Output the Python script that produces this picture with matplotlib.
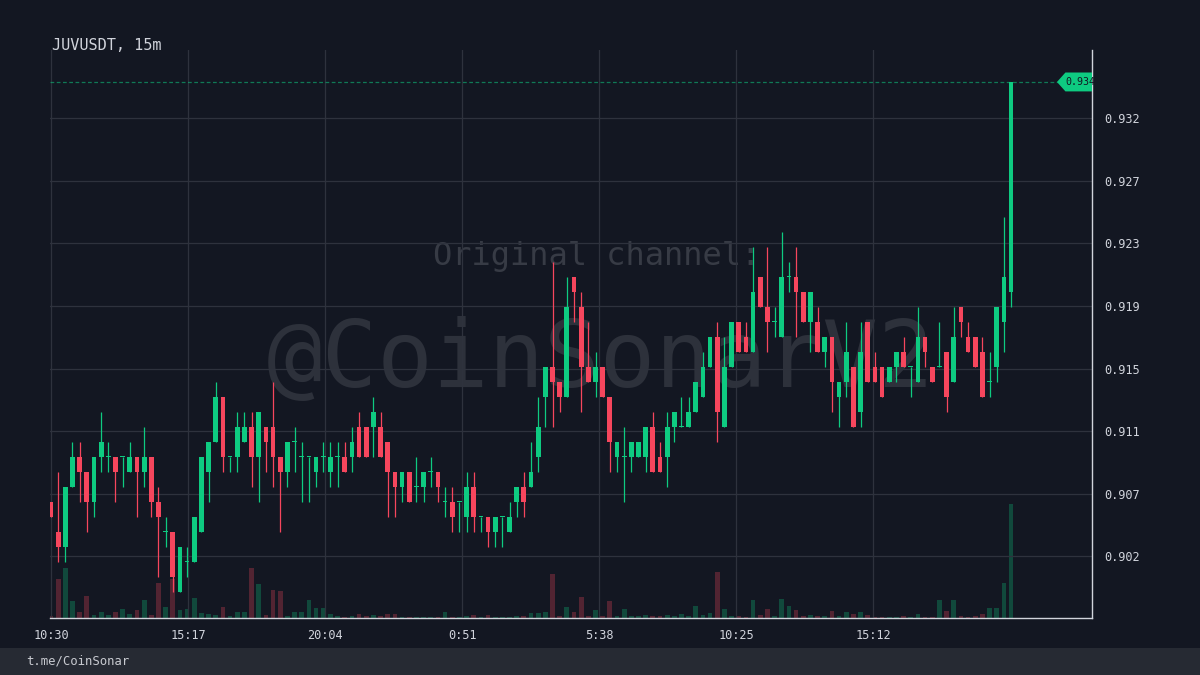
import matplotlib
matplotlib.use("Agg")
import matplotlib.pyplot as plt
from matplotlib.patches import Polygon, Rectangle
import matplotlib.transforms as mtransforms

# ---- data (JUVUSDT 15m candles) ----
symbol = "JUVUSDT, 15m"
footer = "t.me/CoinSonar"

opens = [
    0.906, 0.904, 0.903, 0.907, 0.909, 0.908, 0.906, 0.909, 0.909, 0.909,
    0.909, 0.908, 0.909, 0.908, 0.909, 0.906, 0.904, 0.904, 0.900, 0.902,
    0.902, 0.904, 0.908, 0.910, 0.913, 0.909, 0.909, 0.910, 0.911, 0.909,
    0.911, 0.911, 0.909, 0.908, 0.910, 0.909, 0.909, 0.908, 0.909, 0.908,
    0.909, 0.909, 0.909, 0.911, 0.911, 0.911, 0.911, 0.910, 0.908, 0.907,
    0.908, 0.907, 0.907, 0.908, 0.908, 0.906, 0.906, 0.906, 0.905, 0.907,
    0.905, 0.905, 0.904, 0.905, 0.904, 0.906, 0.907, 0.907, 0.909, 0.913,
    0.915, 0.914, 0.913, 0.921, 0.919, 0.915, 0.914, 0.915, 0.913, 0.909,
    0.909, 0.909, 0.909, 0.909, 0.911, 0.909, 0.909, 0.911, 0.911, 0.911,
    0.912, 0.913, 0.915, 0.917, 0.911, 0.915, 0.918, 0.917, 0.916, 0.921,
    0.919, 0.918, 0.917, 0.921, 0.921, 0.920, 0.918, 0.918, 0.916, 0.917,
    0.913, 0.914, 0.915, 0.912, 0.918, 0.915, 0.915, 0.914, 0.915, 0.916,
    0.915, 0.914, 0.917, 0.915, 0.915, 0.916, 0.914, 0.919, 0.917, 0.917,
    0.916, 0.914, 0.915, 0.918, 0.920,
]
closes = [
    0.905, 0.903, 0.907, 0.909, 0.908, 0.906, 0.909, 0.910, 0.909, 0.908,
    0.909, 0.909, 0.908, 0.909, 0.906, 0.905, 0.904, 0.901, 0.903, 0.902,
    0.905, 0.909, 0.910, 0.913, 0.909, 0.909, 0.911, 0.911, 0.909, 0.912,
    0.910, 0.909, 0.908, 0.910, 0.910, 0.909, 0.909, 0.909, 0.909, 0.909,
    0.909, 0.908, 0.910, 0.909, 0.909, 0.912, 0.909, 0.908, 0.907, 0.908,
    0.906, 0.907, 0.908, 0.908, 0.907, 0.906, 0.905, 0.906, 0.907, 0.905,
    0.905, 0.904, 0.905, 0.905, 0.905, 0.907, 0.906, 0.908, 0.911, 0.915,
    0.914, 0.913, 0.919, 0.920, 0.915, 0.914, 0.915, 0.913, 0.910, 0.910,
    0.909, 0.910, 0.910, 0.911, 0.908, 0.908, 0.911, 0.912, 0.911, 0.912,
    0.914, 0.915, 0.917, 0.912, 0.915, 0.918, 0.916, 0.916, 0.920, 0.919,
    0.918, 0.918, 0.921, 0.921, 0.920, 0.918, 0.920, 0.916, 0.917, 0.914,
    0.914, 0.916, 0.911, 0.916, 0.914, 0.914, 0.913, 0.915, 0.916, 0.915,
    0.915, 0.917, 0.916, 0.914, 0.915, 0.913, 0.917, 0.918, 0.916, 0.915,
    0.913, 0.914, 0.919, 0.921, 0.934,
]
highs = [
    0.906, 0.908, 0.907, 0.910, 0.910, 0.908, 0.909, 0.912, 0.910, 0.909,
    0.909, 0.910, 0.909, 0.911, 0.909, 0.907, 0.905, 0.904, 0.903, 0.903,
    0.905, 0.909, 0.910, 0.914, 0.913, 0.909, 0.912, 0.912, 0.912, 0.912,
    0.911, 0.914, 0.909, 0.910, 0.911, 0.910, 0.909, 0.909, 0.910, 0.910,
    0.910, 0.910, 0.911, 0.912, 0.911, 0.913, 0.912, 0.910, 0.908, 0.908,
    0.908, 0.909, 0.908, 0.909, 0.908, 0.907, 0.907, 0.906, 0.908, 0.908,
    0.905, 0.905, 0.905, 0.905, 0.906, 0.907, 0.908, 0.910, 0.913, 0.915,
    0.922, 0.914, 0.921, 0.921, 0.920, 0.918, 0.916, 0.915, 0.913, 0.910,
    0.911, 0.910, 0.910, 0.911, 0.912, 0.910, 0.912, 0.912, 0.913, 0.913,
    0.914, 0.916, 0.917, 0.918, 0.917, 0.918, 0.918, 0.918, 0.923, 0.921,
    0.923, 0.919, 0.924, 0.922, 0.923, 0.920, 0.920, 0.919, 0.917, 0.917,
    0.914, 0.918, 0.915, 0.918, 0.918, 0.916, 0.915, 0.915, 0.916, 0.917,
    0.915, 0.919, 0.917, 0.915, 0.918, 0.916, 0.919, 0.919, 0.918, 0.917,
    0.917, 0.916, 0.919, 0.925, 0.934,
]
lows = [
    0.905, 0.902, 0.902, 0.907, 0.906, 0.904, 0.905, 0.908, 0.908, 0.906,
    0.907, 0.908, 0.905, 0.907, 0.905, 0.901, 0.903, 0.900, 0.900, 0.901,
    0.902, 0.904, 0.906, 0.910, 0.908, 0.908, 0.908, 0.910, 0.907, 0.906,
    0.908, 0.907, 0.904, 0.907, 0.908, 0.906, 0.906, 0.907, 0.908, 0.907,
    0.907, 0.908, 0.908, 0.909, 0.909, 0.909, 0.909, 0.905, 0.905, 0.906,
    0.906, 0.906, 0.906, 0.907, 0.906, 0.905, 0.904, 0.904, 0.904, 0.904,
    0.904, 0.903, 0.903, 0.903, 0.904, 0.905, 0.905, 0.907, 0.908, 0.911,
    0.911, 0.912, 0.913, 0.918, 0.912, 0.914, 0.913, 0.913, 0.908, 0.908,
    0.906, 0.908, 0.909, 0.908, 0.908, 0.908, 0.907, 0.910, 0.911, 0.911,
    0.912, 0.913, 0.915, 0.910, 0.911, 0.915, 0.916, 0.916, 0.916, 0.919,
    0.916, 0.917, 0.917, 0.920, 0.917, 0.918, 0.916, 0.916, 0.915, 0.912,
    0.911, 0.913, 0.911, 0.911, 0.914, 0.914, 0.913, 0.914, 0.914, 0.915,
    0.913, 0.914, 0.915, 0.914, 0.915, 0.912, 0.914, 0.917, 0.916, 0.915,
    0.913, 0.913, 0.914, 0.916, 0.919,
]
volumes = [
    2, 39, 50, 17, 6, 22, 3, 6, 3, 6,
    9, 4, 8, 18, 3, 35, 11, 39, 8, 9,
    20, 5, 4, 3, 11, 2, 6, 6, 50, 34,
    3, 28, 27, 2, 6, 6, 18, 10, 10, 4,
    2, 1, 2, 4, 2, 3, 2, 4, 4, 1,
    0.5, 1, 1, 0.5, 1, 6, 1, 0.5, 2, 3,
    0.5, 3, 1, 1, 1, 2, 2, 5, 5, 6,
    44, 2, 11, 6, 21, 2, 8, 2, 17, 2,
    9, 2, 2, 3, 2, 2, 3, 2, 4, 2,
    12, 3, 5, 46, 9, 2, 2, 1, 18, 3,
    9, 2, 19, 12, 8, 2, 3, 2, 2, 7,
    2, 6, 4, 6, 3, 1, 1, 1, 1, 2,
    1, 4, 1, 1, 18, 7, 18, 2, 1, 2,
    4, 10, 10, 35, 113,
]

time_labels = ["10:30", "15:17", "20:04", "0:51", "5:38", "10:25", "15:12"]
candles_per_label = 287 / 15          # 4h47m between labels, 15m candles
price_ticks = [0.90237, 0.90654, 0.91072, 0.91489, 0.91906, 0.92324, 0.92741, 0.93158]
price_labels = ["0.902", "0.907", "0.911", "0.915", "0.919", "0.923", "0.927", "0.932"]
last_price = 0.934
last_label = "0.934"

# ---- style ----
BG = "#131722"
GRID = "#2e323d"
TEXT = "#d1d4dc"
UP = "#0ecb81"
DOWN = "#f6465d"
MONO = "DejaVu Sans Mono"

fig = plt.figure(figsize=(12, 6.75), dpi=100, facecolor=BG)
rect = [50 / 1200, 57 / 675, 1042 / 1200, 568 / 675]
xlim = (-0.14, 145.3)

n = len(opens)
xs = list(range(n))
colors = [UP if c >= o else DOWN for o, c in zip(opens, closes)]

# volume pane (underneath)
vax = fig.add_axes(rect, facecolor=BG)
vax.bar(xs, volumes, width=0.66, color=colors, alpha=0.28, linewidth=0)
vax.set_xlim(*xlim)
vax.set_ylim(0, max(volumes) * 5.0)
vax.axis("off")

# price pane
ax = fig.add_axes(rect)
ax.patch.set_visible(False)
ax.set_xlim(*xlim)
ax.set_ylim(0.89827, 0.93613)

# watermark
ax.text(0.5005, 0.4267, "@CoinSonarV2", transform=fig.transFigure, ha="center",
        va="baseline", fontsize=66.5, family=MONO, color="#2d313b", zorder=0.5)
ax.text(0.4975, 1 - 265 / 675, "Original channel:", transform=fig.transFigure,
        ha="center", va="baseline", fontsize=23, family=MONO, color="#373b45", zorder=0.5)

# candles
ax.vlines(xs, lows, highs, colors=colors, linewidth=0.9, zorder=3)
bottoms = [min(o, c) for o, c in zip(opens, closes)]
heights = [max(abs(c - o), 0.00008) for o, c in zip(opens, closes)]
ax.bar(xs, heights, bottom=bottoms, width=0.66, color=colors, linewidth=0, zorder=4)

# last price line + tag
ax.axhline(last_price, color=UP, linewidth=0.9, alpha=0.55, dashes=(3, 2), zorder=2)
trans = mtransforms.blended_transform_factory(ax.transAxes, ax.transData)
half = 0.00063
tag = Polygon([(0.9664, last_price), (0.9745, last_price + half), (1.0, last_price + half),
               (1.0, last_price - half), (0.9745, last_price - half)],
              closed=True, transform=trans, facecolor=UP, edgecolor="none", zorder=6)
ax.add_patch(tag)
ax.text(0.9740, last_price, last_label, transform=trans, ha="left", va="center",
        fontsize=7.2, family=MONO, color=BG, zorder=7, clip_on=False)

# axes / grid
ax.set_xticks([k * candles_per_label for k in range(len(time_labels))])
ax.set_xticklabels(time_labels)
ax.set_yticks(price_ticks)
ax.set_yticklabels(price_labels)
ax.yaxis.tick_right()
ax.grid(True, color=GRID, linewidth=0.9, zorder=0)
ax.set_axisbelow(True)
ax.tick_params(axis="both", length=0, colors=TEXT, labelsize=8.6)
ax.tick_params(axis="y", pad=9)
ax.tick_params(axis="x", pad=8)
for lab in ax.get_xticklabels() + ax.get_yticklabels():
    lab.set_family(MONO)
for side in ("top", "left"):
    ax.spines[side].set_visible(False)
for side in ("right", "bottom"):
    ax.spines[side].set_color(TEXT)
    ax.spines[side].set_linewidth(1.0)

# header and footer
fig.text(52 / 1200, 1 - 46 / 675, symbol, ha="left", va="center", fontsize=11,
         family=MONO, color=TEXT)
fig.add_artist(Rectangle((0, 0), 1, 27 / 675, transform=fig.transFigure,
                         facecolor="#262a33", edgecolor="none"))
fig.text(26 / 1200, 1 - 661 / 675, footer, ha="left", va="center", fontsize=8.8,
         family=MONO, color="#c8cad0")

fig.savefig("out.png", dpi=100, facecolor=BG)
